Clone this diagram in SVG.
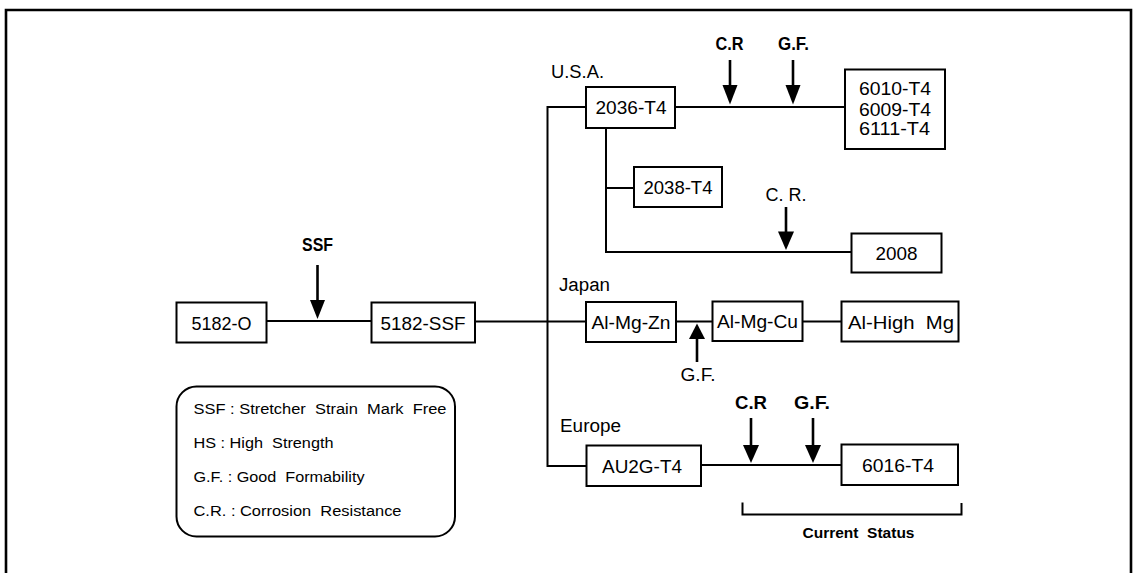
<svg xmlns="http://www.w3.org/2000/svg" width="1138" height="573" viewBox="0 0 1138 573">
<style>
.box{fill:#fff;stroke:#000;stroke-width:2}
.ln{fill:none;stroke:#000;stroke-width:2}
.sh{fill:none;stroke:#000;stroke-width:2.6}
.hd{fill:#000;stroke:none}
text{font-family:"Liberation Sans",Arial,Helvetica,sans-serif;fill:#000}
.nt{font-size:19px;text-anchor:middle}
.lb{font-size:18px}
.bl{font-size:17.5px;font-weight:bold;text-anchor:middle}
.lg{font-size:15.5px}
</style>
<rect width="1138" height="573" fill="#fff"/>
<path d="M6 573 V10 H1131 V573" fill="none" stroke="#000" stroke-width="2.6"/>

<g id="connectors">
<path class="ln" d="M266.5 321 H371.5"/>
<path class="ln" d="M475 321.5 H586"/>
<path class="ln" d="M586 107 H547.5 V466 H586.5"/>
<path class="ln" d="M675 107 H845"/>
<path class="ln" d="M606 128 V252 H851.5"/>
<path class="ln" d="M606 188 H634"/>
<path class="ln" d="M676 321.5 H712.5"/>
<path class="ln" d="M802.5 321.5 H841.5"/>
<path class="ln" d="M701 465 H841.5"/>
<path class="ln" d="M742.5 502.5 V514.5 H961.5 V503"/>
</g>

<g id="arrows">
<path class="sh" d="M317.5 265 V302"/>
<polygon class="hd" points="310,300 325,300 317.5,319"/>
<path class="sh" d="M730 60 V87"/>
<polygon class="hd" points="722.5,85 737.5,85 730,104.5"/>
<path class="sh" d="M793 60 V87"/>
<polygon class="hd" points="785.5,85 800.5,85 793,104.5"/>
<path class="sh" d="M786 207 V233"/>
<polygon class="hd" points="778,231.5 794,231.5 786,250"/>
<path class="sh" d="M697 362 V337"/>
<polygon class="hd" points="689,339 705,339 697,323.5"/>
<path class="sh" d="M751 418 V447"/>
<polygon class="hd" points="743,445 759,445 751,463"/>
<path class="sh" d="M813 418 V447"/>
<polygon class="hd" points="805,445 821,445 813,463"/>
</g>

<g id="n5182O"><rect class="box" x="176.5" y="302.5" width="90" height="40"/><text class="nt" x="221.5" y="329.5" textLength="60" lengthAdjust="spacingAndGlyphs">5182-O</text></g>
<g id="n5182SSF"><rect class="box" x="371.5" y="302.5" width="103.5" height="40"/><text class="nt" x="423" y="329.5" textLength="85" lengthAdjust="spacingAndGlyphs">5182-SSF</text></g>
<g id="n2036"><rect class="box" x="586" y="87" width="89" height="41"/><text class="nt" x="631" y="114" textLength="71" lengthAdjust="spacingAndGlyphs">2036-T4</text></g>
<g id="n6010"><rect class="box" x="845" y="69.5" width="100" height="79.5"/>
<text class="lb" x="859" y="95" textLength="72" lengthAdjust="spacingAndGlyphs">6010-T4</text>
<text class="lb" x="859" y="115.5" textLength="72" lengthAdjust="spacingAndGlyphs">6009-T4</text>
<text class="lb" x="859" y="135" textLength="71" lengthAdjust="spacingAndGlyphs">6111-T4</text></g>
<g id="n2038"><rect class="box" x="634" y="167" width="88" height="40"/><text class="nt" x="678" y="194" textLength="69" lengthAdjust="spacingAndGlyphs">2038-T4</text></g>
<g id="n2008"><rect class="box" x="851.5" y="233.5" width="90" height="39"/><text class="nt" x="896.5" y="259.5" textLength="42" lengthAdjust="spacingAndGlyphs">2008</text></g>
<g id="nAlMgZn"><rect class="box" x="586" y="302" width="90" height="40"/><text class="nt" x="631" y="329" textLength="79" lengthAdjust="spacingAndGlyphs">Al-Mg-Zn</text></g>
<g id="nAlMgCu"><rect class="box" x="712.5" y="301.5" width="90" height="39.5"/><text class="nt" x="757.5" y="328" textLength="81" lengthAdjust="spacingAndGlyphs">Al-Mg-Cu</text></g>
<g id="nAlHighMg"><rect class="box" x="841.5" y="301.5" width="117" height="40"/><text class="nt" x="901" y="328.5" textLength="106" lengthAdjust="spacingAndGlyphs" xml:space="preserve">Al-High  Mg</text></g>
<g id="nAU2G"><rect class="box" x="586.5" y="445.5" width="114.5" height="40.5"/><text class="nt" x="642" y="472.5" textLength="80" lengthAdjust="spacingAndGlyphs">AU2G-T4</text></g>
<g id="n6016"><rect class="box" x="841.5" y="444.5" width="116.5" height="40.5"/><text class="nt" x="898" y="471.5" textLength="72" lengthAdjust="spacingAndGlyphs">6016-T4</text></g>

<g id="labels">
<text class="lb" x="551" y="77.5" textLength="53" lengthAdjust="spacingAndGlyphs">U.S.A.</text>
<text class="lb" x="559" y="290.5" textLength="51" lengthAdjust="spacingAndGlyphs">Japan</text>
<text class="lb" x="560" y="432" textLength="61" lengthAdjust="spacingAndGlyphs">Europe</text>
<text class="bl" x="317.5" y="251" textLength="31" lengthAdjust="spacingAndGlyphs">SSF</text>
<text class="bl" x="729.5" y="49.5" textLength="28" lengthAdjust="spacingAndGlyphs">C.R</text>
<text class="bl" x="793.5" y="49.5" textLength="31" lengthAdjust="spacingAndGlyphs">G.F.</text>
<text class="lb" x="786" y="201" text-anchor="middle" textLength="41" lengthAdjust="spacingAndGlyphs">C. R.</text>
<text class="lb" x="698" y="381" text-anchor="middle" textLength="35" lengthAdjust="spacingAndGlyphs">G.F.</text>
<text class="bl" x="751" y="408.5" textLength="32" lengthAdjust="spacingAndGlyphs">C.R</text>
<text class="bl" x="812" y="408.5" textLength="36" lengthAdjust="spacingAndGlyphs">G.F.</text>
<text class="bl" x="858.5" y="538" style="font-size:15.5px" textLength="112" lengthAdjust="spacingAndGlyphs" xml:space="preserve">Current  Status</text>
</g>

<g id="legend">
<rect class="box" x="176.5" y="386.5" width="278.5" height="150" rx="20" ry="20"/>
<text class="lg" x="193.5" y="414" textLength="253" lengthAdjust="spacingAndGlyphs" xml:space="preserve">SSF : Stretcher  Strain  Mark  Free</text>
<text class="lg" x="193.5" y="448" textLength="140" lengthAdjust="spacingAndGlyphs" xml:space="preserve">HS : High  Strength</text>
<text class="lg" x="193.5" y="481.5" textLength="171" lengthAdjust="spacingAndGlyphs" xml:space="preserve">G.F. : Good  Formability</text>
<text class="lg" x="193.5" y="516" textLength="208" lengthAdjust="spacingAndGlyphs" xml:space="preserve">C.R. : Corrosion  Resistance</text>
</g>
</svg>
